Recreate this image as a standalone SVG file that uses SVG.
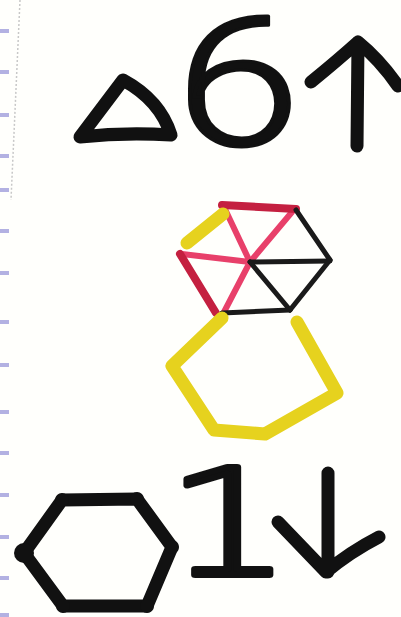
<svg xmlns="http://www.w3.org/2000/svg" width="401" height="617" viewBox="0 0 401 617">
<defs>
<style>
.ink{fill:none;stroke:#111;stroke-width:13;stroke-linecap:round;stroke-linejoin:round}
.red{fill:none;stroke:#c42040;stroke-width:8;stroke-linecap:round}
.pink{fill:none;stroke:#e8406a;stroke-width:6;stroke-linecap:round}
.blk{fill:none;stroke:#1a1a1a;stroke-width:5;stroke-linecap:round}
.yel{fill:none;stroke:#e6d21e;stroke-width:13;stroke-linecap:round;stroke-linejoin:round}
.mark{fill:#b3b1e2}
.digit{fill:#111;stroke:#111;stroke-linejoin:round}
</style>
</defs>
<rect width="401" height="617" fill="#fffffc"/>
<g id="margin">
<path d="M20,0 L11,200" stroke="#c8c8c8" stroke-width="1.5" stroke-dasharray="2,2" fill="none"/>
<rect class="mark" x="0" y="29" width="9" height="4"/>
<rect class="mark" x="0" y="70" width="9" height="4"/>
<rect class="mark" x="0" y="113" width="9" height="4"/>
<rect class="mark" x="0" y="154" width="9" height="4"/>
<rect class="mark" x="0" y="188" width="9" height="4"/>
<rect class="mark" x="0" y="229" width="9" height="4"/>
<rect class="mark" x="0" y="271" width="9" height="4"/>
<rect class="mark" x="0" y="320" width="9" height="4"/>
<rect class="mark" x="0" y="363" width="9" height="4"/>
<rect class="mark" x="0" y="410" width="9" height="4"/>
<rect class="mark" x="0" y="451" width="9" height="4"/>
<rect class="mark" x="0" y="493" width="9" height="4"/>
<rect class="mark" x="0" y="535" width="9" height="4"/>
<rect class="mark" x="0" y="576" width="9" height="4"/>
<rect class="mark" x="0" y="613" width="9" height="4"/>
</g>
<g id="triangle">
<path class="ink" stroke-width="14" d="M80,137 L123,80 Q160,100 171,135 Q125,132 80,137 Z"/>
</g>
<g id="six">
<text class="digit" stroke-width="3" transform="translate(238,145) scale(1.25,1)" text-anchor="middle" font-family="Roboto, sans-serif" font-weight="300" font-size="180">6</text>
</g>
<g id="up-arrow">
<path class="ink" d="M357,146 L358,42 M311,82 Q338,60 358,42 Q380,60 398,86"/>
</g>
<g id="small-hexagon">
<line class="pink" x1="250" y1="262" x2="224" y2="207"/>
<line class="pink" x1="250" y1="262" x2="292" y2="212"/>
<line class="pink" x1="250" y1="262" x2="182" y2="254"/>
<line class="pink" x1="250" y1="262" x2="224" y2="312"/>
<line class="blk" x1="250" y1="262" x2="330" y2="261"/>
<line class="blk" x1="250" y1="262" x2="290" y2="310" stroke="#444"/>
<line class="red" x1="222" y1="205" x2="296" y2="209"/>
<line class="red" x1="180" y1="254" x2="216" y2="313"/>
<line class="blk" x1="296" y1="210" x2="330" y2="260"/>
<line class="blk" x1="330" y1="260" x2="290" y2="310"/>
<line class="blk" x1="222" y1="313" x2="290" y2="310"/>
<line class="yel" x1="187" y1="243" x2="223" y2="214" stroke-width="10"/>
</g>
<g id="yellow-hexagon">
<path class="yel" d="M222,318 L172,366 L214,430 L265,434 L337,393 L297,322"/>
</g>
<g id="bottom-hexagon">
<path class="ink" d="M62,500 L137,499 L172,547 L147,606 L63,606 L24,553 Z"/>
<circle cx="24" cy="553" r="10" fill="#111"/>
<circle cx="62" cy="500" r="7" fill="#111"/>
<circle cx="137" cy="499" r="7" fill="#111"/>
<circle cx="172" cy="547" r="7" fill="#111"/>
<circle cx="147" cy="606" r="7" fill="#111"/>
<circle cx="63" cy="606" r="7" fill="#111"/>
</g>
<g id="one">
<text class="digit" stroke-width="6" transform="translate(229,575) scale(1.35,1)" text-anchor="middle" font-family="DejaVu Sans, sans-serif" font-weight="200" font-size="148">1</text>
</g>
<g id="down-arrow">
<path class="ink" d="M328,473 L328,572 M278,522 Q305,550 326,572 Q350,552 379,537"/>
</g>
</svg>
